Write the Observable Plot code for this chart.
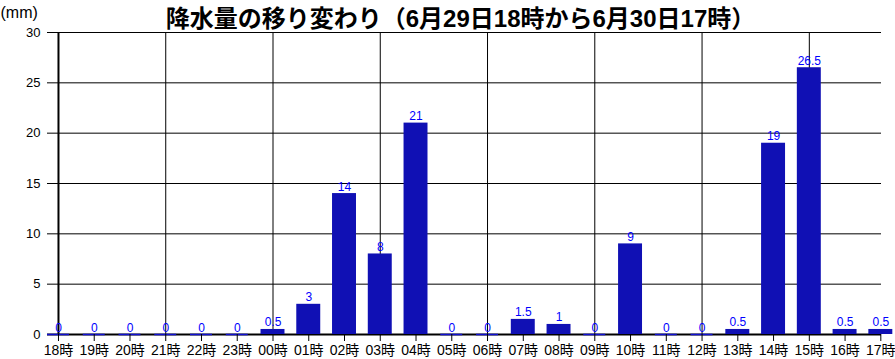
<!DOCTYPE html>
<html><head><meta charset="utf-8">
<script src="https://cdn.jsdelivr.net/npm/d3@7"></script>
<script src="https://cdn.jsdelivr.net/npm/@observablehq/plot@0.6"></script>
<style>
body{margin:0;background:#fff;}
#chart svg{display:block;}
</style>
</head><body><div id="chart"></div>
<script>
const hours = ["18時","19時","20時","21時","22時","23時","00時","01時","02時","03時","04時","05時","06時","07時","08時","09時","10時","11時","12時","13時","14時","15時","16時","17時"];
const rain = [0,0,0,0,0,0,0.5,3,14,8,21,0,0,1.5,1,0,9,0,0,0.5,19,26.5,0.5,0.5];
const yTicks = [0,5,10,15,20,25,30];
const titleText = "降水量の移り変わり（6月29日18時から6月30日17時）";
const unitText = "(mm)";

const data = hours.map((h,i)=>({hour:h, value:rain[i]}));
const gridHours = hours.filter((h,i)=>i%3===0);
const font = "'Liberation Sans','Noto Sans CJK JP',sans-serif";

const chart = Plot.plot({
  width: 895, height: 359,
  marginLeft: 47, marginRight: 14, marginTop: 32, marginBottom: 25,
  style: {fontFamily: font, background: "#fff", color: "#000"},
  x: {type: "band", domain: hours, range: [40.1, 898.2], paddingInner: 0.33, paddingOuter: 0.165, align: 0.5, round: false, label: null},
  y: {domain: [0, 30], label: null},
  marks: [
    Plot.ruleY(yTicks, {stroke: "#000", strokeWidth: 1}),
    Plot.ruleX(gridHours.slice(1), {y1: 0, y2: 30, stroke: "#000", strokeWidth: 1}),
    Plot.ruleX([hours[0]], {y1: 0, y2: 30, stroke: "#000", strokeWidth: 2}),
    Plot.ruleY([0], {stroke: "#000", strokeWidth: 2}),
    Plot.barY(data, {x: "hour", y: "value", fill: "#1010b4"}),
    Plot.tickY(data.filter(d=>d.value===0), {x: "hour", y: "value", stroke: "#1010d0", strokeWidth: 1.5, insetLeft: 1, insetRight: 1}),
    Plot.text(data, {x: "hour", y: "value", text: d=>String(d.value), fill: "#0000ff", fontSize: 12, lineAnchor: "bottom", dy: -3}),
    Plot.axisY(yTicks, {tickSize: 0, tickPadding: 7, fontSize: 13, label: null}),
    Plot.axisX({tickSize: 7, tickPadding: 4, fontSize: 14, label: null, stroke: "#000"}),
    Plot.text([titleText], {frameAnchor: "top", dy: -23, dx: -4, fontSize: 24, fontWeight: "bold", text: d=>d}),
    Plot.text([unitText], {frameAnchor: "top-left", dx: -47, dy: -26, fontSize: 16, textAnchor: "start", text: d=>d})
  ]
});
document.getElementById("chart").append(chart);
</script>
</body></html>
